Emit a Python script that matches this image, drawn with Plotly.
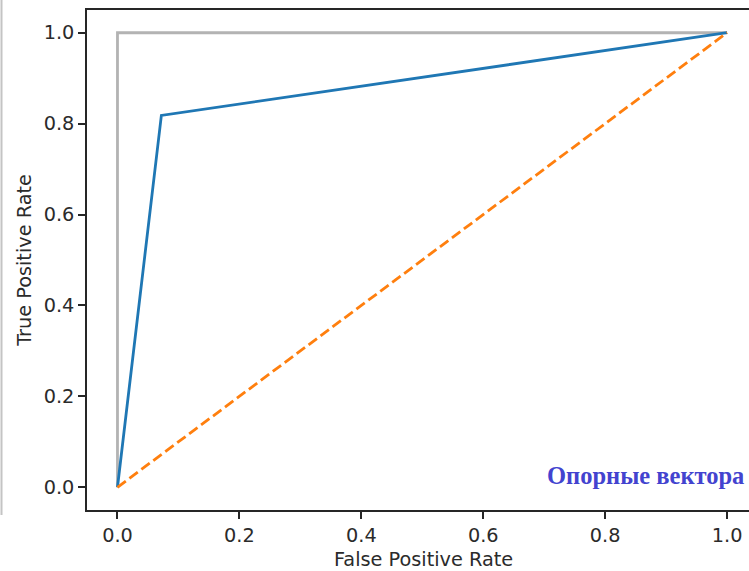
import plotly.graph_objects as go

# ROC curve of the SVM classifier
fpr = [0.0, 0.072, 1.0]
tpr = [0.0, 0.818, 1.0]

# reference lines: ideal classifier and random guessing
ideal_x = [0.0, 0.0, 1.0]
ideal_y = [0.0, 1.0, 1.0]
chance_x = [0.0, 1.0]
chance_y = [0.0, 1.0]

tick_vals = [0.0, 0.2, 0.4, 0.6, 0.8, 1.0]
tick_text = ["0.0", "0.2", "0.4", "0.6", "0.8", "1.0"]

fig = go.Figure()
fig.add_trace(go.Scatter(x=ideal_x, y=ideal_y, mode="lines",
                         line=dict(color="#b3b3b3", width=2.8), showlegend=False))
fig.add_trace(go.Scatter(x=fpr, y=tpr, mode="lines",
                         line=dict(color="#1f77b4", width=2.8), showlegend=False))
fig.add_trace(go.Scatter(x=chance_x, y=chance_y, mode="lines",
                         line=dict(color="#ff7f0e", width=2.8, dash="10.4px,4.5px"),
                         showlegend=False))

axis_font = dict(family="DejaVu Sans", size=19.3, color="#2b2b2b")
W, H, L, B = 749, 571, 87, 61
plot_w, plot_h = W - L, H - B - 10

fig.update_layout(
    width=W, height=H,
    margin=dict(l=L, r=0, t=10, b=B),
    paper_bgcolor="white", plot_bgcolor="white",
    xaxis=dict(range=[-0.05, 1.036], tickvals=tick_vals, ticktext=tick_text,
               showgrid=False, zeroline=False, showline=True, mirror=True,
               linecolor="#262626", linewidth=1.5, ticks="outside", ticklen=7,
               tickwidth=1.5, tickcolor="#262626", tickfont=axis_font),
    yaxis=dict(range=[-0.05, 1.05], tickvals=tick_vals, ticktext=tick_text,
               showgrid=False, zeroline=False, showline=True, mirror=False,
               linecolor="#262626", linewidth=1.5, ticks="outside", ticklen=7,
               tickwidth=1.5, tickcolor="#262626", tickfont=axis_font,
               title=dict(text="True Positive Rate", font=axis_font, standoff=7)),
    annotations=[
        dict(text="False Positive Rate", xref="paper", yref="paper",
             x=(423 - L) / plot_w, y=(510 - 559) / plot_h,
             xanchor="center", yanchor="middle", showarrow=False, font=axis_font),
        dict(text="<b>Опорные вектора</b>", xref="paper", yref="paper",
             x=(645 - L) / plot_w, y=(510 - 476) / plot_h,
             xanchor="center", yanchor="middle", showarrow=False,
             font=dict(family="Liberation Serif", size=24.5, color="#4343cf")),
    ],
    shapes=[dict(type="line", xref="paper", yref="paper",
                 x0=(1.5 - L) / plot_w, x1=(1.5 - L) / plot_w,
                 y0=(510 - 515) / plot_h, y1=(510 + 2) / plot_h,
                 line=dict(color="#c4c4c4", width=2))],
)

fig.write_html("out.html")
